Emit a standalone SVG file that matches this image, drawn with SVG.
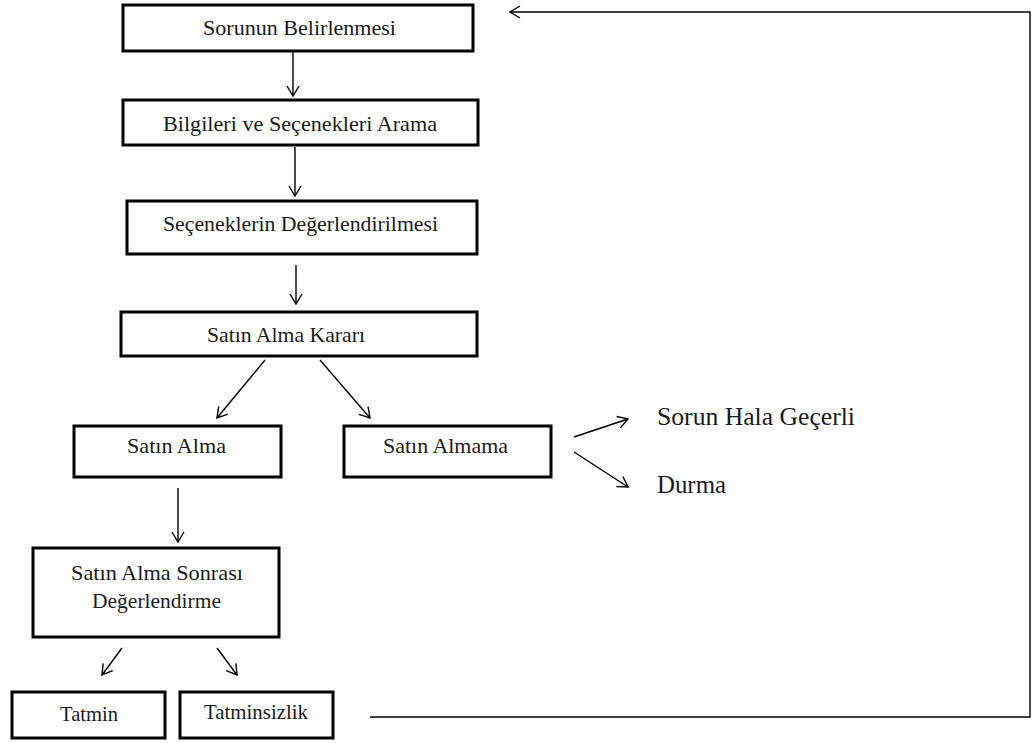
<svg xmlns="http://www.w3.org/2000/svg" width="1032" height="743" viewBox="0 0 1032 743">
  <style>
    .box { fill: #ffffff; stroke: #000000; stroke-width: 3; }
    .lbl { font-family: "Liberation Serif", "Times New Roman", serif; font-size: 21.5px; fill: #1a1a1a; }
    .big { font-family: "Liberation Serif", "Times New Roman", serif; font-size: 25.5px; fill: #1a1a1a; }
    .con { stroke: #000000; stroke-width: 1.4; fill: none; }
  </style>
  <defs>
    <marker id="open" viewBox="0 0 12 14" refX="11" refY="7" markerWidth="12" markerHeight="14" markerUnits="userSpaceOnUse" orient="auto">
      <path d="M1,1 L11,7 L1,13" fill="none" stroke="#000000" stroke-width="1.4"/>
    </marker>
  </defs>
  <rect width="1032" height="743" fill="#ffffff"/>

  <g id="connectors">
    <line class="con" x1="293" y1="52" x2="293" y2="96" marker-end="url(#open)"/>
    <line class="con" x1="295" y1="147" x2="295" y2="196" marker-end="url(#open)"/>
    <line class="con" x1="296" y1="265" x2="296" y2="304" marker-end="url(#open)"/>
    <line class="con" x1="265" y1="360" x2="217" y2="418" marker-end="url(#open)"/>
    <line class="con" x1="320" y1="360" x2="370" y2="418" marker-end="url(#open)"/>
    <line class="con" x1="574" y1="437" x2="628" y2="419" marker-end="url(#open)"/>
    <line class="con" x1="574" y1="452" x2="628" y2="487" marker-end="url(#open)"/>
    <line class="con" x1="178" y1="488" x2="178" y2="542" marker-end="url(#open)"/>
    <line class="con" x1="122" y1="648" x2="102" y2="675" marker-end="url(#open)"/>
    <line class="con" x1="217" y1="648" x2="237" y2="675" marker-end="url(#open)"/>
    <polyline class="con" points="370,717 1030,717 1030,12 510,12" marker-end="url(#open)"/>
  </g>

  <g id="sorun-belirlenmesi">
    <rect class="box" x="123" y="5" width="350" height="46"/>
    <text class="lbl" x="203" y="35" textLength="193" lengthAdjust="spacingAndGlyphs">Sorunun Belirlenmesi</text>
  </g>
  <g id="bilgi-arama">
    <rect class="box" x="123" y="100" width="355" height="45"/>
    <text class="lbl" x="163" y="131" textLength="274" lengthAdjust="spacingAndGlyphs">Bilgileri ve Seçenekleri Arama</text>
  </g>
  <g id="degerlendirme">
    <rect class="box" x="127" y="201" width="350" height="53"/>
    <text class="lbl" x="163" y="231" textLength="275" lengthAdjust="spacingAndGlyphs">Seçeneklerin Değerlendirilmesi</text>
  </g>
  <g id="satin-alma-karari">
    <rect class="box" x="121" y="312" width="356" height="44"/>
    <text class="lbl" x="207" y="342" textLength="158" lengthAdjust="spacingAndGlyphs">Satın Alma Kararı</text>
  </g>
  <g id="satin-alma">
    <rect class="box" x="74" y="426" width="207" height="51"/>
    <text class="lbl" x="127" y="453" textLength="99" lengthAdjust="spacingAndGlyphs">Satın Alma</text>
  </g>
  <g id="satin-almama">
    <rect class="box" x="344" y="426" width="207" height="51"/>
    <text class="lbl" x="383" y="453" textLength="125" lengthAdjust="spacingAndGlyphs">Satın Almama</text>
  </g>
  <g id="sorun-hala-gecerli">
    <text class="big" x="657" y="425" textLength="198" lengthAdjust="spacingAndGlyphs">Sorun Hala Geçerli</text>
  </g>
  <g id="durma">
    <text class="big" x="657" y="493" textLength="69" lengthAdjust="spacingAndGlyphs">Durma</text>
  </g>
  <g id="satin-alma-sonrasi">
    <rect class="box" x="33" y="548" width="246" height="89"/>
    <text class="lbl" x="71" y="580" textLength="172" lengthAdjust="spacingAndGlyphs">Satın Alma Sonrası</text>
    <text class="lbl" x="92" y="608" textLength="129" lengthAdjust="spacingAndGlyphs">Değerlendirme</text>
  </g>
  <g id="tatmin">
    <rect class="box" x="12" y="692" width="153" height="46"/>
    <text class="lbl" x="60" y="721" textLength="58" lengthAdjust="spacingAndGlyphs">Tatmin</text>
  </g>
  <g id="tatminsizlik">
    <rect class="box" x="180" y="692" width="153" height="46"/>
    <text class="lbl" x="204" y="719" textLength="104" lengthAdjust="spacingAndGlyphs">Tatminsizlik</text>
  </g>
</svg>
